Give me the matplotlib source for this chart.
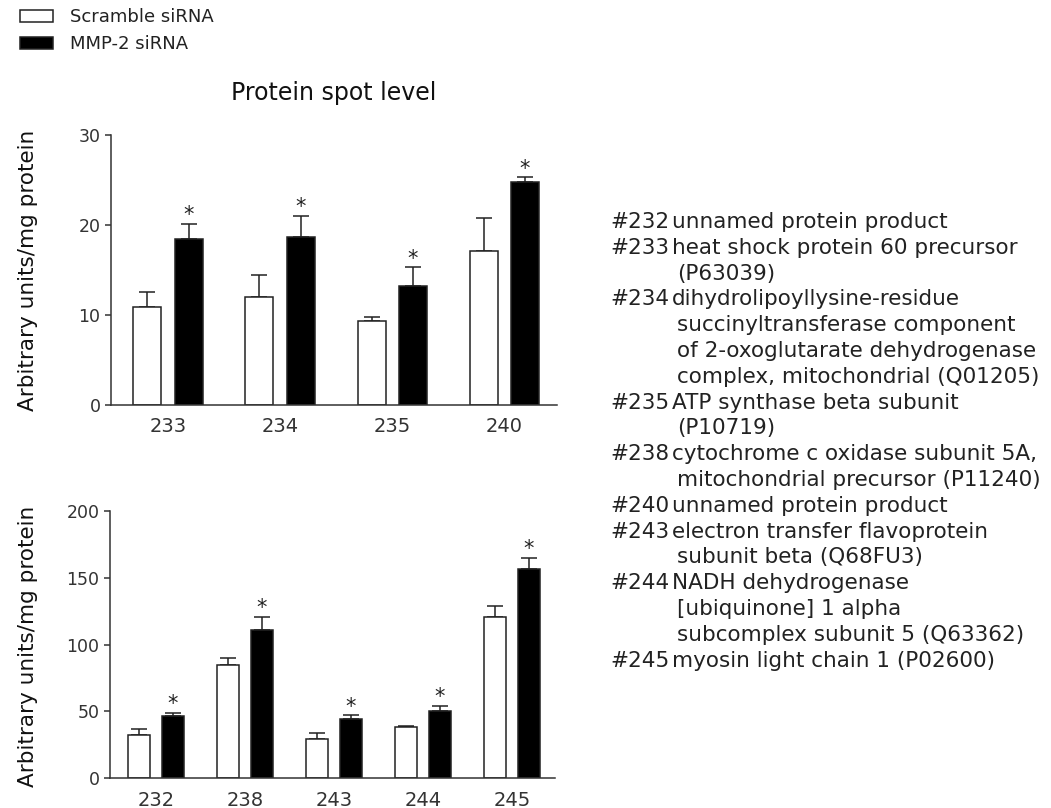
import matplotlib
matplotlib.use("Agg")
import matplotlib.pyplot as plt
import numpy as np

# upper panel
top_spots = ["233", "234", "235", "240"]
scramble_top = [10.9, 12.0, 9.3, 17.1]
scramble_top_err = [1.7, 2.5, 0.5, 3.7]
mmp2_top = [18.4, 18.7, 13.2, 24.8]
mmp2_top_err = [1.7, 2.3, 2.1, 0.5]

# lower panel
bottom_spots = ["232", "238", "243", "244", "245"]
scramble_bot = [32.0, 84.6, 29.0, 38.4, 120.6]
scramble_bot_err = [4.5, 5.5, 4.5, 0.8, 8.2]
mmp2_bot = [46.4, 110.9, 44.0, 50.0, 156.4]
mmp2_bot_err = [2.3, 10.0, 3.0, 4.0, 8.6]

series_names = ["Scramble siRNA", "MMP-2 siRNA"]

notes = [
    ("#232", ["unnamed protein product"]),
    ("#233", ["heat shock protein 60 precursor", "(P63039)"]),
    ("#234", ["dihydrolipoyllysine-residue",
              "succinyltransferase component",
              "of 2-oxoglutarate dehydrogenase",
              "complex, mitochondrial (Q01205)"]),
    ("#235", ["ATP synthase beta subunit", "(P10719)"]),
    ("#238", ["cytochrome c oxidase subunit 5A,",
              "mitochondrial precursor (P11240)"]),
    ("#240", ["unnamed protein product"]),
    ("#243", ["electron transfer flavoprotein", "subunit beta (Q68FU3)"]),
    ("#244", ["NADH dehydrogenase", "[ubiquinone] 1 alpha",
              "subcomplex subunit 5 (Q63362)"]),
    ("#245", ["myosin light chain 1 (P02600)"]),
]

W, H = 1051, 808
AX_COL = "#333333"


def panel(ax, spots, s_vals, s_err, m_vals, m_err, width, off, ylim, yticks, xlim):
    x = np.arange(len(spots))
    b1 = ax.bar(x - off, s_vals, width, color="white", edgecolor="#222222",
                linewidth=1.1, zorder=2)
    b2 = ax.bar(x + off, m_vals, width, color="black", edgecolor="#222222",
                linewidth=1.1, zorder=2)
    ax.errorbar(x - off, s_vals, yerr=[np.zeros(len(x)), s_err], fmt="none",
                ecolor="#222222", elinewidth=1.1, capsize=5.5, capthick=1.1, zorder=1)
    ax.errorbar(x + off, m_vals, yerr=[np.zeros(len(x)), m_err], fmt="none",
                ecolor="#222222", elinewidth=1.1, capsize=5.5, capthick=1.1, zorder=1)
    for xi, v, e in zip(x + off, m_vals, m_err):
        ax.annotate("*", xy=(xi, v + e), xytext=(0, -1), textcoords="offset points",
                    ha="center", va="bottom", fontsize=15, color="#222222")
    ax.set_xlim(*xlim)
    ax.set_ylim(*ylim)
    ax.set_yticks(yticks)
    ax.set_xticks(x)
    ax.set_xticklabels(spots)
    for s in ["top", "right"]:
        ax.spines[s].set_visible(False)
    for s in ["left", "bottom"]:
        ax.spines[s].set_color(AX_COL)
        ax.spines[s].set_linewidth(1.1)
    ax.tick_params(axis="x", length=0, pad=9, labelsize=14, labelcolor=AX_COL)
    ax.tick_params(axis="y", length=4.5, width=1.1, color=AX_COL, pad=3,
                   labelsize=12.5, labelcolor=AX_COL)
    return b1, b2


fig = plt.figure(figsize=(W / 100, H / 100), dpi=100)

ax1 = fig.add_axes([111 / W, 1 - 405 / H, 446 / W, 270 / H])
h1, h2 = panel(ax1, top_spots, scramble_top, scramble_top_err, mmp2_top, mmp2_top_err,
               0.25, 0.185, (0, 30), [0, 10, 20, 30], (-0.51, 3.47))
ax1.text(0.5, (405 - 93) / 270, "Protein spot level", transform=ax1.transAxes,
         ha="center", va="center", fontsize=17, color="#111111")

ax2 = fig.add_axes([110 / W, 1 - 778 / H, 445 / W, 267 / H])
panel(ax2, bottom_spots, scramble_bot, scramble_bot_err, mmp2_bot, mmp2_bot_err,
      0.253, 0.19, (0, 200), [0, 50, 100, 150, 200], (-0.517, 4.483))

for yc in (270, 646):
    fig.text(28 / W, 1 - yc / H, "Arbitrary units/mg protein", rotation=90,
             ha="center", va="center", fontsize=15.5, color="#111111")

fig.legend([h1, h2], series_names, loc="upper left",
           bbox_to_anchor=(20 / W, 1 - 8 / H), frameon=False, fontsize=13,
           handlelength=1.85, handleheight=0.65, handletextpad=0.9,
           labelspacing=0.5, borderpad=0, borderaxespad=0, labelcolor="#222222")

# annotation list on the right
line_h = 25.8
row = 0
for tag, lines in notes:
    for j, line in enumerate(lines):
        y = 1 - (222 + row * line_h) / H
        if j == 0:
            fig.text(610 / W, y, tag, ha="left", va="center", fontsize=15.5,
                     color="#222222")
            fig.text(672 / W, y, line, ha="left", va="center", fontsize=15.5,
                     color="#222222")
        else:
            fig.text(677 / W, y, line, ha="left", va="center", fontsize=15.5,
                     color="#222222")
        row += 1

fig.savefig("out.png", dpi=100)
